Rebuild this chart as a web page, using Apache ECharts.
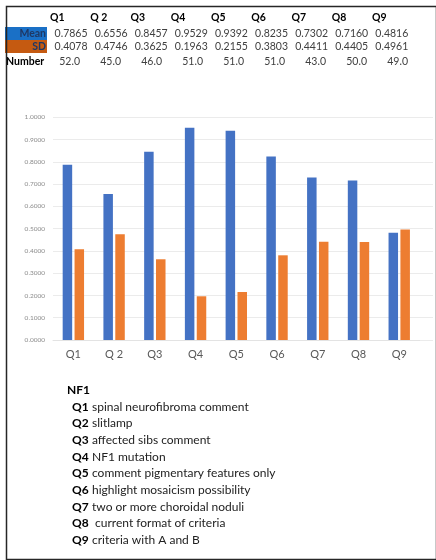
<!DOCTYPE html>
<html>
<head>
<meta charset="utf-8">
<script src="https://cdn.jsdelivr.net/npm/echarts@6/dist/echarts.min.js"></script>
<style>html,body{margin:0;padding:0;background:#fff;}#c{width:436px;height:560px;}</style>
</head>
<body>
<div id="c"></div>
<script>
const categories = ['Q1','Q 2','Q3','Q4','Q5','Q6','Q7','Q8','Q9'];
const tableHeaders = ['Q1','Q 2','Q3','Q4','Q5','Q6','Q7','Q8','Q9'];
const meanValues = [0.7865,0.6556,0.8457,0.9529,0.9392,0.8235,0.7302,0.7160,0.4816];
const sdValues = [0.4078,0.4746,0.3625,0.1963,0.2155,0.3803,0.4411,0.4405,0.4961];
const numberValues = [52.0,45.0,46.0,51.0,51.0,51.0,43.0,50.0,49.0];
const yTicks = [0,0.1,0.2,0.3,0.4,0.5,0.6,0.7,0.8,0.9,1.0];
const legendTitle = 'NF1';
const legendKeys = ['Q1','Q2','Q3','Q4','Q5','Q6','Q7','Q8','Q9'];
const legendTexts = ['spinal neurofibroma comment','slitlamp','affected sibs comment','NF1 mutation','comment pigmentary features only','highlight mosaicism possibility','two or more choroidal noduli',' current format of criteria','criteria with A and B'];

const FONT = 'Lato, "Open Sans", sans-serif';
const chart = echarts.init(document.getElementById('c'), null, {renderer:'canvas'});

const graphics = [];
// border
graphics.push({type:'rect', left:4, top:4, shape:{x:0,y:0,width:430,height:553}, style:{fill:'none', stroke:'#262626', lineWidth:1.5}, z:100});
// table label backgrounds
graphics.push({type:'rect', shape:{x:5,y:27,width:42,height:13}, style:{fill:'#1a70c6'}});
graphics.push({type:'rect', shape:{x:5,y:40,width:42,height:13}, style:{fill:'#c55a11'}});
graphics.push({type:'text', x:46, y:33.5, style:{text:'Mean', align:'right', verticalAlign:'middle', font:'bold 10.5px '+FONT, fill:'#1f3864'}});
graphics.push({type:'text', x:46, y:47, style:{text:'SD', align:'right', verticalAlign:'middle', font:'bold 10.5px '+FONT, fill:'#1f3864'}});
graphics.push({type:'text', x:6, y:62, style:{text:'Number', align:'left', verticalAlign:'middle', font:'bold 10.5px '+FONT, fill:'#000'}});
tableHeaders.forEach((h,i)=>{
  graphics.push({type:'text', x:50+40.25*i, y:18, style:{text:h, align:'left', verticalAlign:'middle', font:'bold 10.5px '+FONT, fill:'#000'}});
  graphics.push({type:'text', x:87.5+40.1*i, y:33.5, style:{text:meanValues[i].toFixed(4), align:'right', verticalAlign:'middle', font:'10.5px '+FONT, fill:'#404040'}});
  graphics.push({type:'text', x:87.5+40.1*i, y:47, style:{text:sdValues[i].toFixed(4), align:'right', verticalAlign:'middle', font:'10.5px '+FONT, fill:'#404040'}});
  graphics.push({type:'text', x:80+41*i, y:62, style:{text:numberValues[i].toFixed(1), align:'right', verticalAlign:'middle', font:'10.5px '+FONT, fill:'#404040'}});
});
// legend text
graphics.push({type:'text', x:67, y:390, style:{text:legendTitle, align:'left', verticalAlign:'middle', font:'bold 12px '+FONT, fill:'#000'}});
legendKeys.forEach((k,i)=>{
  graphics.push({type:'text', x:72, y:406.7+16.67*i, style:{
    text:'{b|'+k+'} {n|'+legendTexts[i]+'}', align:'left', verticalAlign:'middle',
    rich:{b:{font:'bold 12px '+FONT, fill:'#000', color:'#000'}, n:{font:'12px '+FONT, fill:'#222', color:'#222'}}
  }});
});

chart.setOption({
  animation:false,
  backgroundColor:'#fff',
  textStyle:{fontFamily:FONT},
  grid:[
    {left:53, right:16.4, top:117.3, bottom:220, containLabel:false},
    {left:53, right:3, top:117.3, bottom:220, containLabel:false}
  ],
  xAxis:[
    {type:'category', gridIndex:0, data:categories,
     axisLine:{show:true, lineStyle:{color:'#e3e3e3'}}, axisTick:{show:false},
     axisLabel:{color:'#595959', fontSize:11, margin:9, fontFamily:FONT}},
    {type:'value', gridIndex:1, show:false, min:0, max:1}
  ],
  yAxis:[
    {type:'value', gridIndex:0, min:yTicks[0], max:yTicks[yTicks.length-1], interval:0.1,
     axisLine:{show:false}, axisTick:{show:false}, splitLine:{show:false},
     axisLabel:{color:'#8c8c8c', fontSize:6.5, margin:8, formatter:v=>v.toFixed(4), fontFamily:FONT}},
    {type:'value', gridIndex:1, min:yTicks[0], max:yTicks[yTicks.length-1], interval:0.1,
     axisLine:{show:false}, axisTick:{show:false}, axisLabel:{show:false},
     splitLine:{show:true, lineStyle:{color:'#ebebeb', width:1}}}
  ],
  series:[
    {name:'Mean', type:'bar', xAxisIndex:0, yAxisIndex:0, data:meanValues, barWidth:9.5, barGap:'25%', itemStyle:{color:'#4472c4'}, z:3},
    {name:'SD', type:'bar', xAxisIndex:0, yAxisIndex:0, data:sdValues, barWidth:9.5, barGap:'25%', itemStyle:{color:'#ed7d31'}, z:3}
  ],
  graphic:graphics
});
</script>
</body>
</html>
